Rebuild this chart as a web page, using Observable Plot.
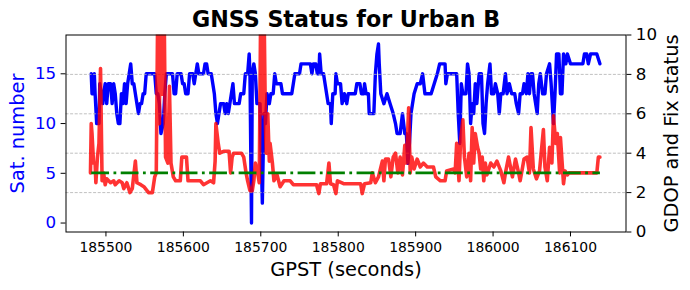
<!DOCTYPE html>
<html><head><meta charset="utf-8">
<script src="https://cdn.jsdelivr.net/npm/d3@7"></script>
<script src="https://cdn.jsdelivr.net/npm/@observablehq/plot@0.6"></script>
<style>html,body{margin:0;padding:0;background:#fff}</style>
</head><body><div id="chart"></div>
<script>
const titleText = "GNSS Status for Urban B";
const xLabel = "GPST (seconds)";
const leftLabel = "Sat. number";
const rightLabel = "GDOP and Fix status";

const xTicks = [185500, 185600, 185700, 185800, 185900, 186000, 186100];
const satTicks = [0, 5, 10, 15];
const gdopTicks = [0, 2, 4, 6, 8, 10];

const satTime = [185481,185482,185484,185485,185486,185488,185491,185492,185494,185496,185497,185499,185501,185503,185506,185508,185510,185512,185514,185516,185518,185520,185522,185524,185526,185528,185530,185532,185534,185536,185538,185540,185542,185544,185546,185548,185550,185552,185563,185565,185567,185569,185571,185574,185576,185578,185586,185588,185590,185592,185597,185599,185601,185603,185606,185608,185612,185614,185616,185618,185620,185626,185628,185630,185632,185636,185638,185640,185642,185644,185646,185648,185652,185654,185656,185658,185660,185662,185664,185666,185672,185674,185678,185680,185683,185685,185686,185688,185689,185691,185693,185695,185699,185702,185704,185706,185708,185711,185713,185716,185718,185720,185726,185728,185740,185742,185744,185750,185752,185764,185766,185768,185771,185773,185775,185776,185778,185781,185783,185785,185787,185790,185791,185793,185796,185797,185799,185803,185805,185808,185811,185813,185822,185824,185828,185830,185833,185834,185836,185839,185840,185846,185848,185850,185852,185853,185855,185859,185863,185867,185871,185874,185876,185880,185883,185886,185888,185890,185892,185894,185898,185902,185906,185909,185912,185920,185924,185928,185931,185938,185939,185941,185953,185955,185957,185959,185961,185965,185967,185969,185971,185973,185975,185977,185979,185982,185985,185987,185989,185991,185993,185996,185998,186001,186003,186006,186008,186010,186013,186016,186018,186021,186024,186028,186030,186033,186035,186038,186040,186043,186045,186047,186049,186051,186053,186055,186057,186059,186061,186064,186067,186069,186073,186075,186078,186080,186082,186085,186087,186089,186091,186094,186096,186100,186116,186118,186121,186123,186126,186134,186138];
const satCount = [15,13,13,15,13,10,10,14,13,12,13,14,12,14,14,12,14,13,11,10,10,13,12,14,12,14,15,16,14,14,13,12,11,12,12,13,13,15,15,13,13,12,9,10,13,15,15,13,13,15,15,14,14,13,13,15,15,14,15,16,15,15,16,16,15,15,14,13,11,10,11,12,12,11,12,11,12,13,14,12,12,13,13,15,15,17,15,0,15,16,15,12,12,2,11,10,13,12,13,13,15,14,14,13,13,14,15,15,16,16,15,16,16,15,15,17,15,15,14,13,12,12,10,13,13,15,14,14,12,13,12,13,13,14,14,13,13,14,13,13,11,11,15,17,18,16,13,12,13,12,11,10,9,9,11,9,9,6,8,11,13,14,14,15,13,13,14,15,16,16,14,15,15,11,8,14,13,13,16,15,10,12,11,14,12,15,15,10,9,12,14,16,13,13,14,13,11,13,13,15,13,14,13,13,12,11,13,13,14,13,15,13,15,15,13,12,11,14,15,13,13,15,16,14,10,13,17,17,13,13,17,16,17,16,16,17,17,16,17,17,16];

const gdopTime = [185480,185481,185482,185484,185486,185487,185489,185491,185493,185495,185497,185499,185501,185506,185510,185512,185517,185521,185523,185527,185531,185534,185538,185540,185545,185549,185553,185555,185560,185563,185565,185567,185569,185570,185573,185575,185577,185580,185582,185584,185587,185590,185596,185598,185604,185606,185614,185622,185626,185635,185639,185641,185642,185645,185647,185652,185659,185661,185663,185665,185675,185678,185681,185683,185686,185689,185691,185693,185696,185698,185700,185702,185704,185706,185707,185709,185711,185712,185715,185717,185721,185725,185730,185738,185742,185772,185775,185777,185785,185788,185790,185794,185797,185799,185807,185829,185831,185834,185842,185844,185848,185852,185857,185859,185861,185865,185868,185871,185874,185877,185880,185883,185886,185888,185891,185893,185895,185898,185902,185906,185910,185915,185923,185926,185932,185938,185940,185949,185951,185953,185956,185958,185961,185963,185966,185969,185971,185973,185975,185977,185980,185982,185984,185986,185988,185990,185992,185997,186001,186005,186010,186014,186016,186020,186025,186029,186033,186035,186040,186044,186047,186049,186052,186056,186060,186065,186067,186070,186073,186076,186078,186081,186083,186086,186087,186091,186093,186096,186098,186134,186136,186138];
const gdopValue = [3.0,5.5,5.0,3.5,3.5,2.5,3.8,4.5,8.3,2.6,3.0,2.4,2.7,2.5,2.6,2.4,2.6,2.5,2.2,2.5,2.0,2.2,3.6,2.5,2.4,2.3,2.1,2.0,2.0,2.8,3.0,12,5.5,12,7.0,12,3.8,3.5,7.4,3.5,2.8,2.6,2.6,3.8,3.8,2.6,2.6,2.6,2.4,2.6,2.5,3.6,5.5,4.5,4.0,4.1,4.1,3.0,3.8,4.0,4.0,3.8,3.0,2.6,2.1,2.1,2.6,3.5,3.0,2.5,12,6.0,12,5.5,4.0,6.0,3.6,4.5,3.5,2.6,2.9,2.3,2.6,2.6,2.4,2.4,1.95,2.45,2.45,3.5,2.45,2.4,1.95,2.6,2.45,2.45,1.95,2.45,2.5,3.0,2.5,2.8,3.6,2.6,3.7,3.7,2.8,3.8,4.0,3.0,3.8,2.9,4.4,3.5,6.3,3.0,3.8,3.2,3.7,3.3,3.5,3.3,3.3,2.8,2.6,2.6,3.1,3.2,3.0,4.5,2.6,4.6,5.7,3.8,2.8,4.0,2.6,5.3,3.5,5.0,4.3,4.0,3.2,3.8,2.6,3.5,2.9,3.5,3.3,3.6,3.1,2.5,3.0,3.8,2.8,3.7,3.0,2.6,3.7,3.8,3.0,5.3,3.2,2.7,3.1,5.2,3.3,2.6,4.3,3.5,5.9,4.5,5.0,3.0,4.8,2.45,3.1,2.9,3.0,3.0,3.8,3.8];

const fixTime = [185481, 186138];
const fixValue = [3, 3];

const satDomain = [-0.9, 18.9];
const gdopDomain = [0, 10];
const xDomain = [185448.4, 186171.7];

const toRight = s => (s - satDomain[0]) / (satDomain[1] - satDomain[0]) * (gdopDomain[1] - gdopDomain[0]) + gdopDomain[0];
const fromRight = g => (g - gdopDomain[0]) / (gdopDomain[1] - gdopDomain[0]) * (satDomain[1] - satDomain[0]) + satDomain[0];

const sat = satTime.map((t, i) => ({t, v: satCount[i]}));
const gdop = gdopTime.map((t, i) => ({t, v: gdopValue[i]}));
const fix = fixTime.map((t, i) => ({t, v: fixValue[i]}));

const chart = Plot.plot({
  width: 690, height: 290,
  marginLeft: 65.5, marginRight: 64.5, marginTop: 34.5, marginBottom: 58.5,
  style: {fontFamily: "DejaVu Sans", background: "white", color: "black"},
  x: {domain: xDomain},
  y: {domain: gdopDomain},
  marks: [
    Plot.line(sat, {x: "t", y: d => toRight(d.v), stroke: "blue", strokeWidth: 3.4}),
    Plot.gridY(gdopTicks.slice(1, -1), {stroke: "#b0b0b0", strokeOpacity: 1, strokeWidth: 0.8, strokeDasharray: "3,1.6"}),
    Plot.line(gdop, {x: "t", y: "v", stroke: "red", strokeOpacity: 0.8, strokeWidth: 3.6, clip: true}),
    Plot.line(fix, {x: "t", y: "v", stroke: "green", strokeWidth: 2.8, strokeDasharray: "17.8,4.45,2.78,4.45", strokeLinecap: "butt"}),
    Plot.frame({stroke: "black", strokeWidth: 1}),
    Plot.axisX(xTicks, {tickSize: 4.9, tickPadding: 4.9, fontSize: 13.9, tickFormat: d => String(d), label: null}),
    Plot.axisY(satTicks.map(toRight), {anchor: "left", tickSize: 4.9, tickPadding: 4.9, fontSize: 16.7, stroke: "black", fill: "blue", tickFormat: d => String(Math.round(fromRight(d))), label: null}),
    Plot.axisY(gdopTicks, {anchor: "right", tickSize: 4.9, tickPadding: 4.9, fontSize: 16.7, tickFormat: d => String(d), label: null}),
    Plot.text([titleText], {frameAnchor: "top", lineAnchor: "bottom", dy: -7.8, fontSize: 22.2, fontWeight: "bold"}),
    Plot.text([xLabel], {frameAnchor: "bottom", lineAnchor: "bottom", dy: 44, fontSize: 19.4}),
    Plot.text([leftLabel], {frameAnchor: "left", textAnchor: "middle", rotate: -90, dx: -48, fontSize: 19.4, fill: "blue"}),
    Plot.text([rightLabel], {frameAnchor: "right", textAnchor: "middle", rotate: -90, dx: 45.5, fontSize: 19.4})
  ]
});
document.getElementById("chart").appendChild(chart);
</script>
</body></html>
